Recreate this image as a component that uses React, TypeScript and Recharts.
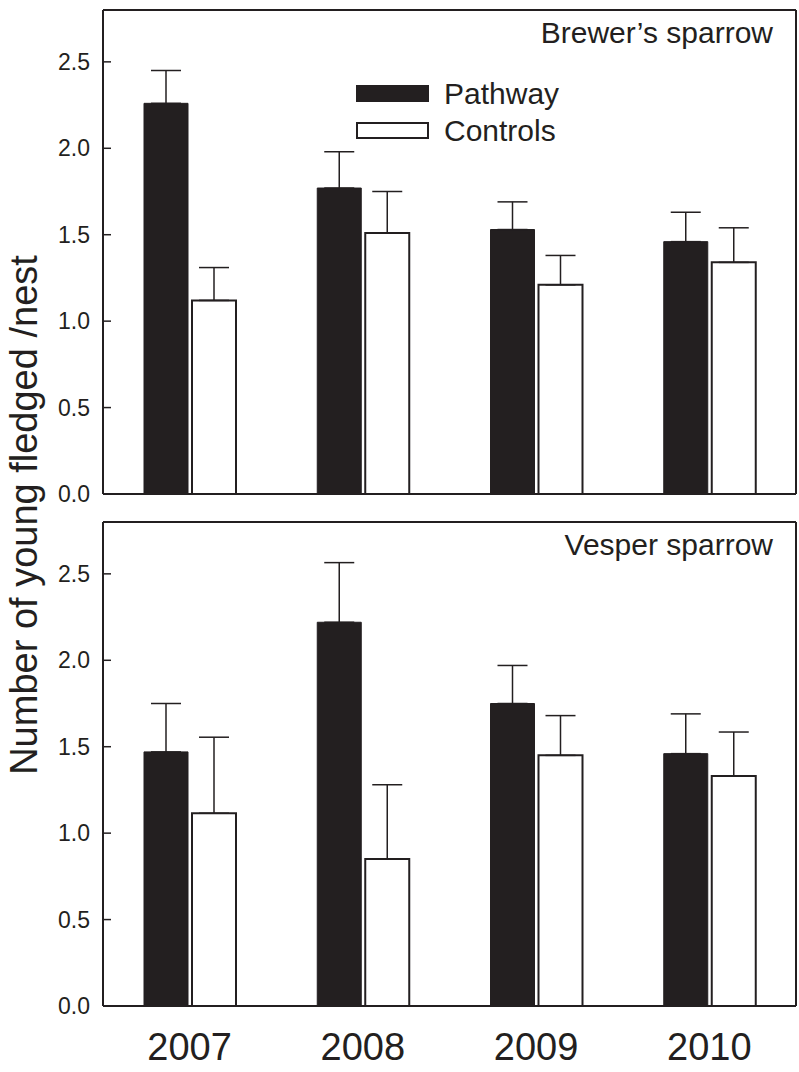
import { BarChart, Bar, XAxis, YAxis, ErrorBar, Legend } from 'recharts';

const INK = '#231f20';
const FONT = '"Liberation Sans", Arial, sans-serif';

const years = ['2007', '2008', '2009', '2010'];
const yTicks = [0, 0.5, 1.0, 1.5, 2.0, 2.5];
const seriesOrder = ['Pathway', 'Controls'];

// Brewer's sparrow
const brewerPathway = [2.26, 1.77, 1.53, 1.46];
const brewerPathwayErr = [0.19, 0.21, 0.16, 0.17];
const brewerControls = [1.12, 1.51, 1.21, 1.34];
const brewerControlsErr = [0.19, 0.24, 0.17, 0.2];

// Vesper sparrow
const vesperPathway = [1.47, 2.22, 1.75, 1.46];
const vesperPathwayErr = [0.28, 0.345, 0.22, 0.23];
const vesperControls = [1.115, 0.85, 1.45, 1.33];
const vesperControlsErr = [0.44, 0.43, 0.23, 0.255];

const build = (p: number[], pe: number[], c: number[], ce: number[]) =>
  years.map((year, i) => ({
    year,
    pathway: p[i],
    pathwayErr: [0, pe[i]],
    controls: c[i],
    controlsErr: [0, ce[i]],
  }));

const brewerData = build(brewerPathway, brewerPathwayErr, brewerControls, brewerControlsErr);
const vesperData = build(vesperPathway, vesperPathwayErr, vesperControls, vesperControlsErr);

const YTick = (props: any) => {
  const { x, y, payload } = props;
  return (
    <g>
      <line x1={x + 13} x2={x + 21} y1={y} y2={y} stroke={INK} strokeWidth={1.5} />
      <text x={x} y={y} textAnchor="end" dominantBaseline="central" fontSize={23} fill={INK} fontFamily={FONT}>
        {Number(payload.value).toFixed(1)}
      </text>
    </g>
  );
};

const LegendBox = (props: any) => {
  const items = [...(props.payload || [])].sort(
    (a: any, b: any) => seriesOrder.indexOf(a.value) - seriesOrder.indexOf(b.value)
  );
  return (
    <div style={{ fontFamily: FONT, color: INK }}>
      {items.map((it: any) => (
        <div key={it.value} style={{ display: 'flex', alignItems: 'center', height: 37 }}>
          <svg width={76} height={19}>
            <rect x={2} y={2} width={71} height={15} fill={it.value === 'Pathway' ? INK : '#fff'} stroke={INK} strokeWidth={2} />
          </svg>
          <span style={{ fontSize: 30, marginLeft: 13 }}>{it.value}</span>
        </div>
      ))}
    </div>
  );
};

interface PanelProps {
  data: any[];
  title: string;
  top: number;
  height: number;
  bottomAxis: number;
  showYears: boolean;
  legend?: boolean;
}

function Panel({ data, title, top, height, bottomAxis, showYears, legend }: PanelProps) {
  return (
    <div style={{ position: 'absolute', left: 0, top, width: 799, height, fontFamily: FONT }}>
      <BarChart
        width={799}
        height={height}
        data={data}
        margin={{ top: 9, right: 2, left: 43, bottom: height - bottomAxis - 484 - 10 }}
        barSize={44}
        barGap={4}
      >
        <XAxis
          dataKey="year"
          height={bottomAxis}
          axisLine={{ stroke: INK, strokeWidth: 2 }}
          tickLine={false}
          tickSize={0}
          tickMargin={27}
          tick={showYears ? { fontSize: 38, fill: INK } : false}
        />
        <XAxis xAxisId="top" dataKey="year" orientation="top" height={1} tick={false} tickLine={false}
          axisLine={{ stroke: INK, strokeWidth: 2 }} />
        <YAxis
          width={60}
          domain={[0, 2.8]}
          ticks={yTicks}
          axisLine={{ stroke: INK, strokeWidth: 2 }}
          tickLine={false}
          tickSize={0}
          tickMargin={13}
          tick={<YTick />}
          interval={0}
        />
        <YAxis yAxisId="right" orientation="right" width={1} domain={[0, 2.8]} tick={false} tickLine={false}
          axisLine={{ stroke: INK, strokeWidth: 2 }} />
        <Bar dataKey="pathway" name="Pathway" fill={INK} stroke={INK} strokeWidth={1} isAnimationActive={false}>
          <ErrorBar dataKey="pathwayErr" width={15} stroke={INK} strokeWidth={1.5} />
        </Bar>
        <Bar dataKey="controls" name="Controls" fill="#fff" stroke={INK} strokeWidth={2} isAnimationActive={false}>
          <ErrorBar dataKey="controlsErr" width={15} stroke={INK} strokeWidth={1.5} />
        </Bar>
        {legend && (
          <Legend
            layout="vertical"
            align="center"
            verticalAlign="middle"
            content={<LegendBox />}
            wrapperStyle={{ left: 355, top: 75, width: 240 }}
          />
        )}
      </BarChart>
      <div style={{ position: 'absolute', right: 26, top: 16, fontSize: 30, color: INK, whiteSpace: 'nowrap' }}>
        {title}
      </div>
    </div>
  );
}

export default function App() {
  return (
    <div style={{ position: 'absolute', left: 0, top: 0, width: 799, height: 1072, background: '#fff' }}>
      <Panel data={vesperData} title="Vesper sparrow" top={512} height={560} bottomAxis={60} showYears />
      <Panel data={brewerData} title="Brewer’s sparrow" top={0} height={511} bottomAxis={1} showYears={false} legend />
      <svg width={799} height={1072} style={{ position: 'absolute', left: 0, top: 0, pointerEvents: 'none' }}>
        <text
          x={37}
          y={515}
          transform="rotate(-90, 37, 515)"
          textAnchor="middle"
          fontSize={38}
          fill={INK}
          fontFamily={FONT}
        >
          Number of young fledged /nest
        </text>
      </svg>
    </div>
  );
}
